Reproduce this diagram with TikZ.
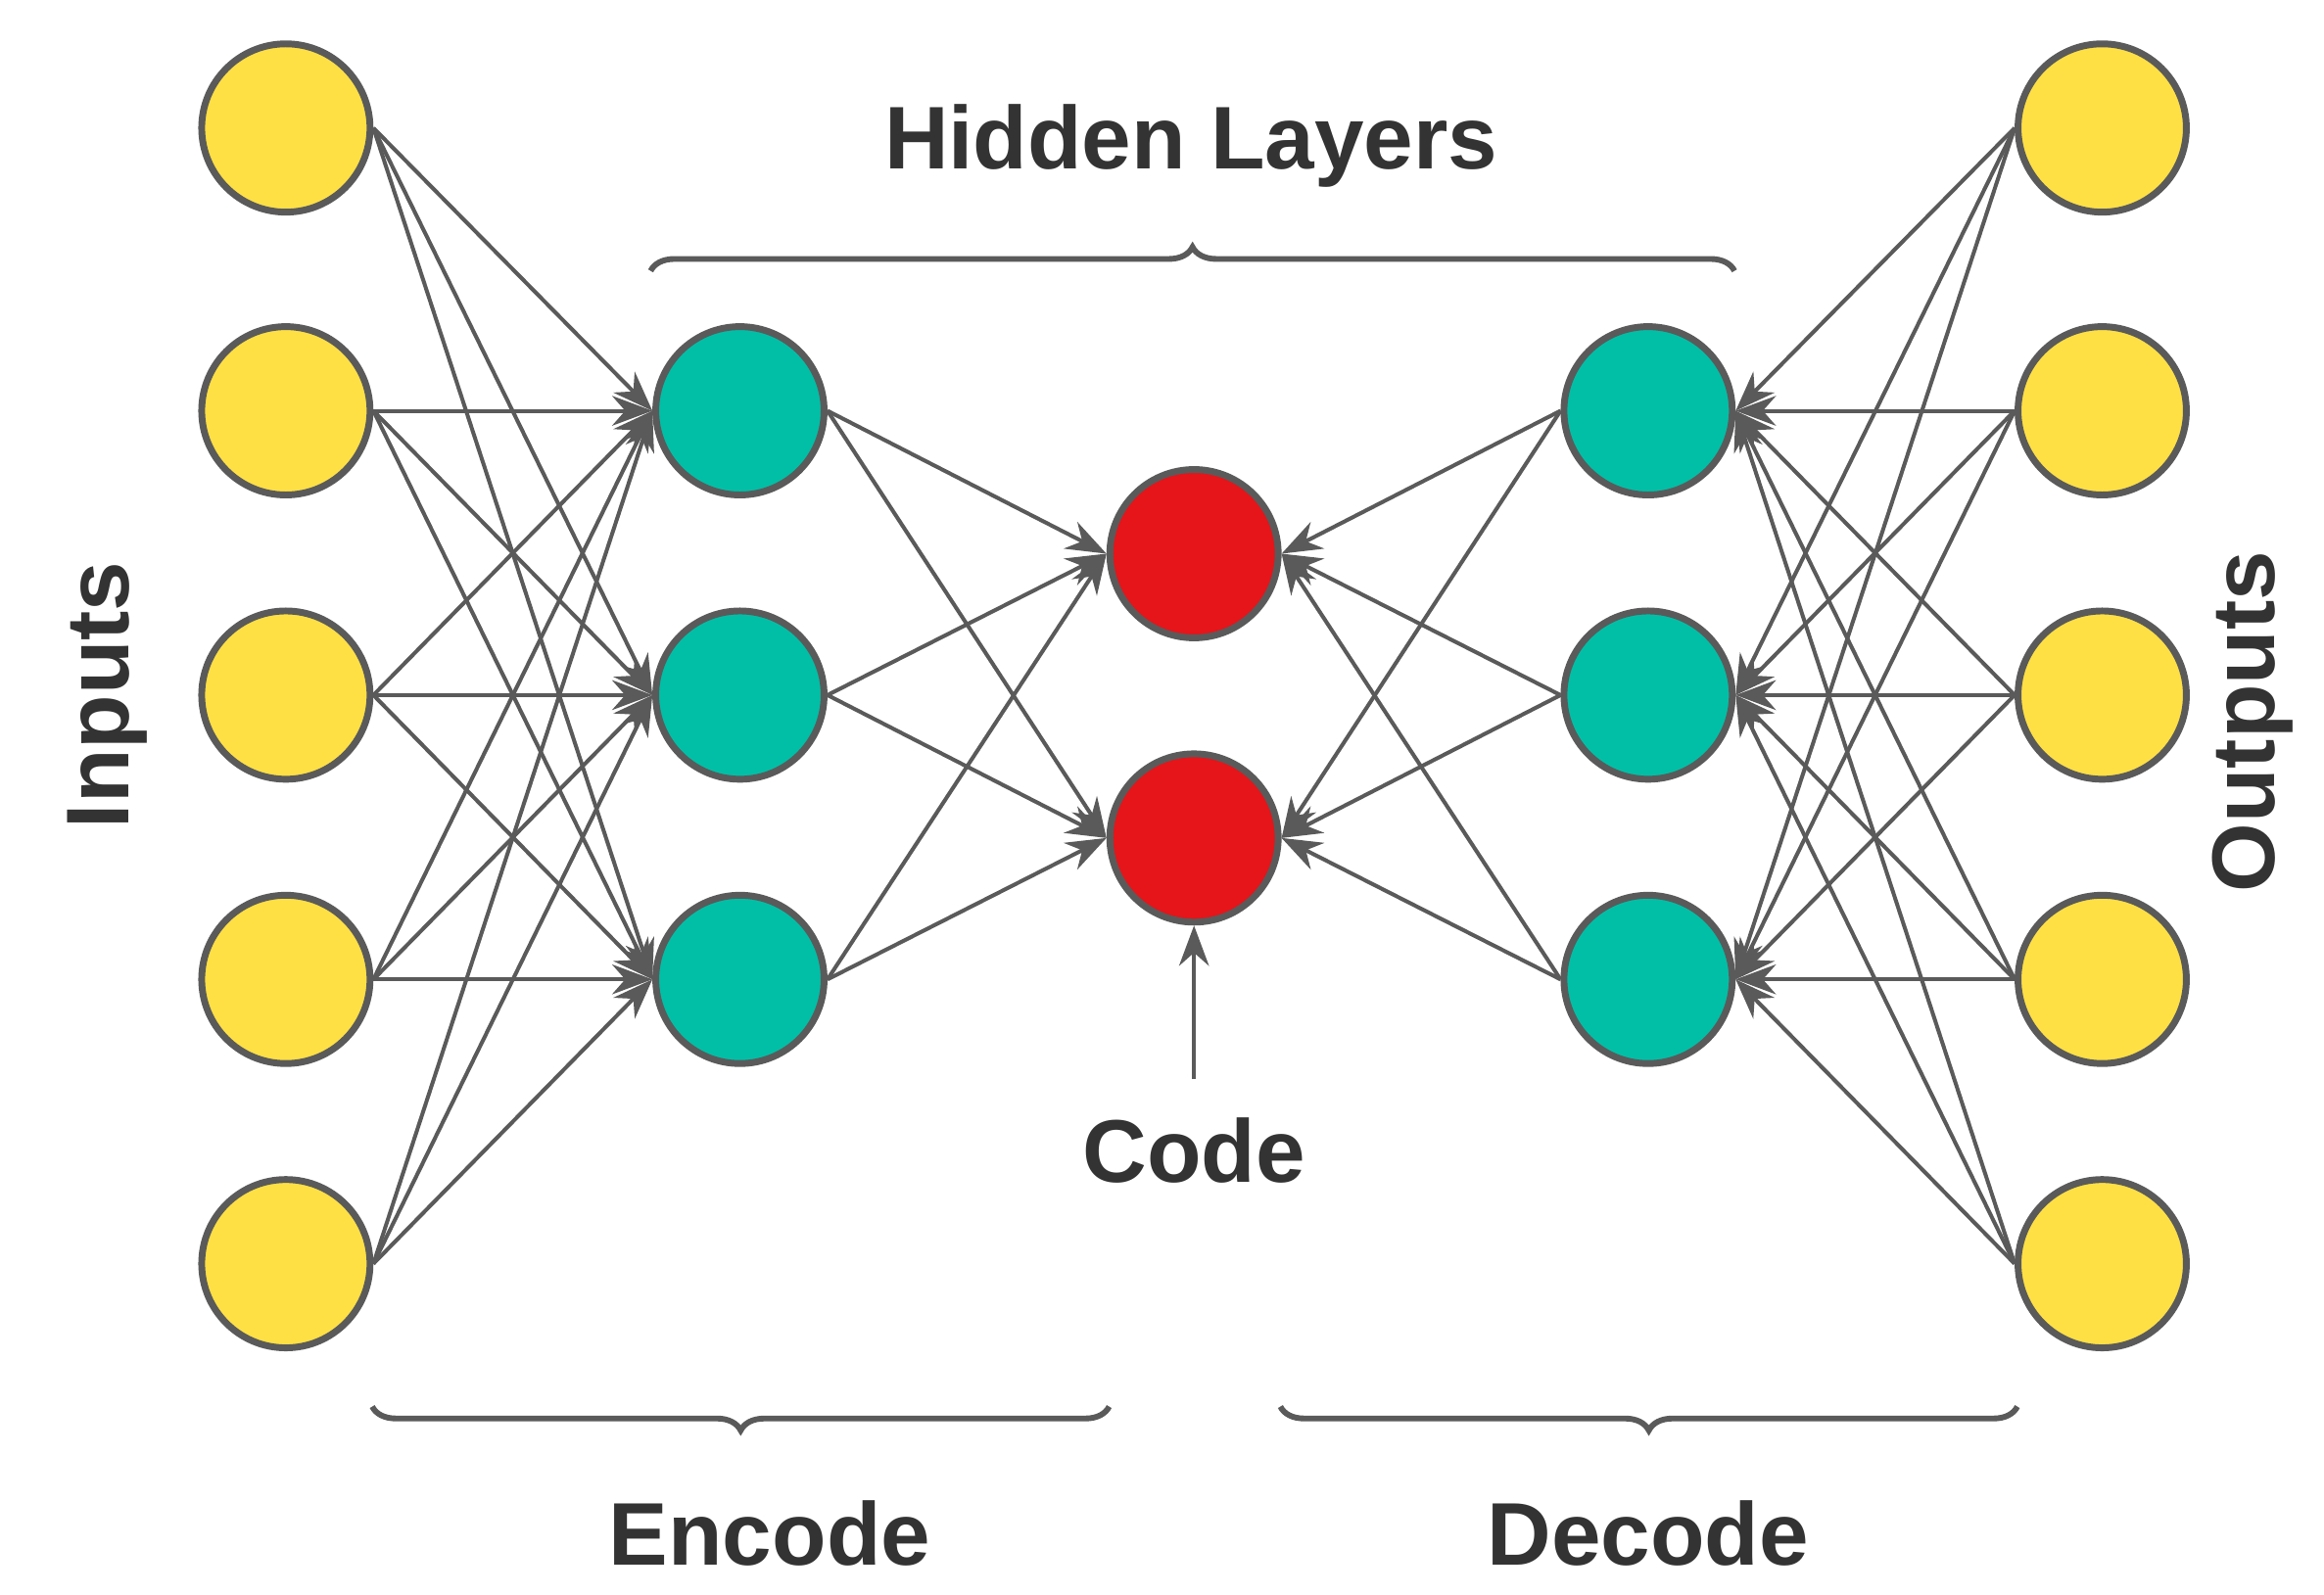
\documentclass[tikz,border=0pt]{standalone}
\usepackage{fontspec}
\setmainfont{Liberation Sans}
\usetikzlibrary{arrows.meta,decorations.pathreplacing}
\definecolor{yel}{HTML}{FFE044}
\definecolor{tea}{HTML}{00BFA6}
\definecolor{rd}{HTML}{E5151A}
\definecolor{gr}{HTML}{5A5A5A}
\begin{document}
\begin{tikzpicture}[x=0.01cm,y=-0.01cm,
  neu/.style={circle,draw=gr,line width=1.3pt,minimum size=1.13cm,inner sep=0pt},
  ynode/.style={neu,fill=yel}, hid/.style={neu,fill=tea}, cod/.style={neu,fill=rd},
  con/.style={draw=gr,line width=0.75pt,-{Stealth[length=0.27cm,width=0.2cm]}},
  br/.style={draw=gr,line width=1.1pt,decorate,decoration={brace,amplitude=0.16cm}},
  lab/.style={font=\fontsize{17}{20}\bfseries\selectfont,text=black!80}]
\useasboundingbox (0,0) rectangle (1561,1071);
\foreach \i/\y in {1/86,2/276,3/467,4/658,5/849}{
  \node[ynode] (i\i) at (192,\y) {};
  \node[ynode] (o\i) at (1412,\y) {};}
\foreach \i/\y in {1/276,2/467,3/658}{
  \node[hid] (e\i) at (497,\y) {};
  \node[hid] (d\i) at (1107,\y) {};}
\node[cod] (c1) at (802,372) {};
\node[cod] (c2) at (802,563) {};
\foreach \a in {1,...,5}\foreach \b in {1,2,3}{
  \draw[con] (i\a.east) -- (e\b.west);
  \draw[con] (o\a.west) -- (d\b.east);}
\foreach \a in {1,2,3}\foreach \b in {1,2}{
  \draw[con] (e\a.east) -- (c\b.west);
  \draw[con] (d\a.west) -- (c\b.east);}
\coordinate (cp) at (802,725);
\draw[con] (cp) -- (c2);
\node[lab] (code) at (802,773) {Code};
\node[lab] (hl) at (800,98) {Hidden Layers};
\node[lab] (enc) at (517,1030) {Encode};
\node[lab] (dec) at (1107,1030) {Decode};
\node[lab,rotate=90] (inp) at (72,467) {Inputs};
\node[lab,rotate=90] (out) at (1513,485) {Outputs};
\coordinate (h1) at (437,182); \coordinate (h2) at (1165,182);
\draw[br] (h1) -- (h2);
\coordinate (a1) at (250,945); \coordinate (a2) at (745,945);
\draw[br,decoration={mirror}] (a1) -- (a2);
\coordinate (b1) at (860,945); \coordinate (b2) at (1355,945);
\draw[br,decoration={mirror}] (b1) -- (b2);
\end{tikzpicture}
\end{document}
